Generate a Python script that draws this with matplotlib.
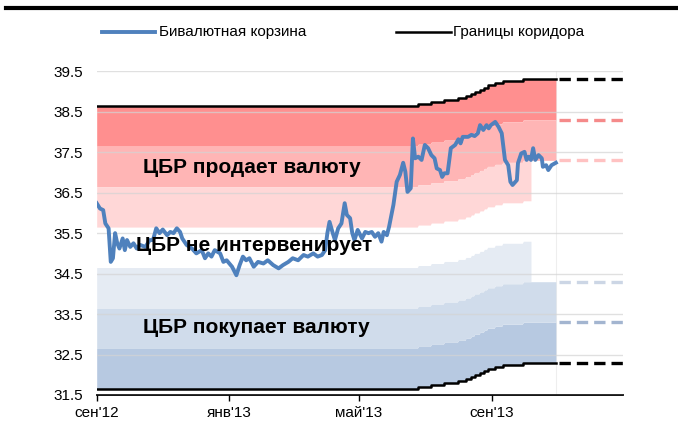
import numpy as np
import pandas as pd
import matplotlib
matplotlib.use('Agg')
import matplotlib.pyplot as plt
from matplotlib.lines import Line2D

plt.rcParams['font.family'] = ['Liberation Sans', 'DejaVu Sans']

start = pd.Timestamp('2012-09-01')

# бивалютная корзина: дни от 1 сен 2012 -> значение
basket_day = [0, 3, 6, 8, 11, 13, 15, 17, 19, 21, 24, 26, 28, 31, 34, 37, 40, 45, 49, 52,
              55, 58, 61, 65, 68, 71, 74, 77, 79, 83, 88, 92, 97, 100, 103, 106, 109, 114,
              117, 120, 125, 129, 132, 135, 138, 141, 145, 149, 154, 158, 163, 168, 172,
              177, 181, 186, 191, 195, 200, 204, 208, 211, 213, 215, 218, 220, 223, 226,
              229, 231, 234, 236, 238, 241, 245, 248, 251, 254, 257, 260, 263, 265, 268,
              270, 274, 277, 280, 283, 285, 287, 290, 292, 294, 297, 300, 303, 306, 309,
              312, 314, 317, 319, 321, 324, 327, 331, 334, 336, 338, 343, 346, 349, 352,
              354, 357, 360, 362, 364, 368, 371, 374, 377, 380, 382, 384, 388, 389, 392,
              395, 397, 399, 401, 403, 405, 408, 411, 412, 415, 417, 420, 424]
basket_val = [36.24, 36.11, 36.07, 35.74, 35.62, 34.79, 34.88, 35.50, 35.25, 35.12, 35.37,
              35.08, 35.33, 35.16, 35.25, 35.12, 35.21, 35.16, 35.33, 35.33, 35.62, 35.50,
              35.59, 35.45, 35.53, 35.50, 35.62, 35.53, 35.37, 35.21, 35.12, 35.00, 35.08,
              34.88, 35.00, 34.92, 35.08, 35.00, 34.79, 34.83, 34.67, 34.46, 34.71, 34.92,
              34.83, 34.88, 34.67, 34.79, 34.75, 34.83, 34.71, 34.63, 34.71, 34.79, 34.88,
              34.83, 34.96, 34.92, 35.00, 34.92, 34.96, 35.08, 35.50, 35.78, 35.50, 35.33,
              35.62, 35.74, 36.24, 35.95, 35.87, 35.50, 35.33, 35.58, 35.37, 35.53, 35.50,
              35.53, 35.41, 35.50, 35.29, 35.53, 35.45, 35.66, 36.20, 36.77, 36.94, 37.24,
              37.02, 36.52, 36.61, 37.84, 37.35, 37.39, 37.31, 37.68, 37.60, 37.43, 37.35,
              37.10, 37.06, 36.89, 36.98, 36.98, 37.60, 37.68, 37.82, 37.72, 37.88, 37.88,
              37.93, 37.90, 37.97, 38.17, 38.05, 38.17, 38.09, 38.17, 38.25, 38.13, 37.97,
              37.31, 37.18, 36.77, 36.69, 36.81, 37.23, 37.47, 37.51, 37.31, 37.39, 37.31,
              37.60, 37.31, 37.43, 37.35, 37.14, 37.18, 37.06, 37.18, 37.24]

# верхняя граница коридора, сдвиги по 5 коп.
corr_day = [0, 297, 309, 321, 334, 341, 346, 349, 354, 358, 361, 368, 375, 394]
corr_upper = [38.65, 38.70, 38.75, 38.80, 38.85, 38.90, 38.95, 39.00, 39.05, 39.10,
              39.15, 39.20, 39.25, 39.30]
corr_width = 7.0
band = 1.0
light_band_end = 401   # после этого узкие зоны интервенций убраны
data_end = 424

month_ticks = ['2012-09-01', '2013-01-01', '2013-05-01', '2013-09-01']
month_labels = ["сен'12", "янв'13", "май'13", "сен'13"]

# дневная сетка для ступенчатых зон
days = np.arange(0, data_end + 1)
upper = np.array(corr_upper)[np.searchsorted(corr_day, days, side='right') - 1]
lower = upper - corr_width
dates = start + pd.to_timedelta(days, unit='D')
n_light = light_band_end + 1

fig = plt.figure(figsize=(6.78, 4.23), dpi=100)
ax = fig.add_axes([0.1426, 0.0662, 0.7763, 0.7652])

# зоны продажи
ax.fill_between(dates, upper - band, upper, color='#FF8F8F', lw=0, zorder=1)
ax.fill_between(dates, upper - 2 * band, upper - band, color='#FFB5B5', lw=0, zorder=1)
ax.fill_between(dates[:n_light], upper[:n_light] - 3 * band, upper[:n_light] - 2 * band,
                color='#FFD7D7', lw=0, zorder=1)
# зоны покупки
ax.fill_between(dates, lower, lower + band, color='#B7C9E1', lw=0, zorder=1)
ax.fill_between(dates, lower + band, lower + 2 * band, color='#D0DCEB', lw=0, zorder=1)
ax.fill_between(dates[:n_light], lower[:n_light] + 2 * band, lower[:n_light] + 3 * band,
                color='#E5EBF3', lw=0, zorder=1)

ax.plot(dates, upper, color='black', lw=1.8, drawstyle='steps-post', zorder=4)
ax.plot(dates, lower, color='black', lw=1.8, drawstyle='steps-post', zorder=4)

# прогноз пунктиром
x_end = pd.Timestamp('2013-12-31')
x_dash = [start + pd.Timedelta(days=data_end + 3), x_end]
last_up = corr_upper[-1]
dash_levels = [last_up, last_up - band, last_up - 2 * band,
               last_up - corr_width + 2 * band, last_up - corr_width + band,
               last_up - corr_width]
dash_colors = ['black', '#F58A8A', '#FFC2C2', '#CCD6E5', '#A3B5D0', 'black']
for lev, col in zip(dash_levels, dash_colors):
    ax.plot(x_dash, [lev, lev], color=col, lw=2.4, dashes=(3.4, 1.8), zorder=3)

ax.axvline(dates[-1], color='#eeeeee', lw=0.8, zorder=0.5)

basket_dates = start + pd.to_timedelta(basket_day, unit='D')
ax.plot(basket_dates, basket_val, color='#4F81BD', lw=2.8, zorder=5,
        solid_joinstyle='round')

ax.text(start + pd.Timedelta(days=143), 37.12, 'ЦБР продает валюту', fontsize=15,
        fontweight='bold', ha='center', va='center', zorder=6)
ax.text(start + pd.Timedelta(days=145), 35.2, 'ЦБР не интервенирует', fontsize=15,
        fontweight='bold', ha='center', va='center', zorder=6)
ax.text(start + pd.Timedelta(days=147), 33.16, 'ЦБР покупает валюту', fontsize=15,
        fontweight='bold', ha='center', va='center', zorder=6)

ax.set_xlim(start, x_end)
ax.set_ylim(31.5, 39.5)
ax.set_yticks(np.arange(31.5, 39.6, 1.0))
ax.set_yticklabels([f'{v:.1f}' for v in np.arange(31.5, 39.6, 1.0)])
ax.set_xticks(pd.to_datetime(month_ticks))
ax.set_xticklabels(month_labels)
ax.grid(axis='y', color='#d4d4d4', lw=1, alpha=0.7)
ax.set_axisbelow(False)
for s in ['top', 'right', 'left']:
    ax.spines[s].set_visible(False)
ax.spines['bottom'].set_linewidth(1.3)
ax.tick_params(axis='y', length=0, pad=10, labelsize=11)
ax.tick_params(axis='x', direction='out', length=4, width=1, pad=4, labelsize=11)

# легенда вручную (пиксели -> доли фигуры)
W, H = 678.0, 423.0
ly = 1 - 32.3 / H
fig.add_artist(Line2D([102 / W, 155 / W], [ly, ly], color='#4F81BD', lw=2.8))
fig.text(159 / W, ly, 'Бивалютная корзина', fontsize=11, va='center', ha='left')
fig.add_artist(Line2D([396 / W, 451 / W], [ly, ly], color='black', lw=1.8))
fig.text(453 / W, ly, 'Границы коридора', fontsize=11, va='center', ha='left')

# жирная линия сверху
fig.add_artist(Line2D([6 / W, 1.0], [1 - 8 / H, 1 - 8 / H], color='black', lw=3))

plt.savefig('out.png', dpi=100)
